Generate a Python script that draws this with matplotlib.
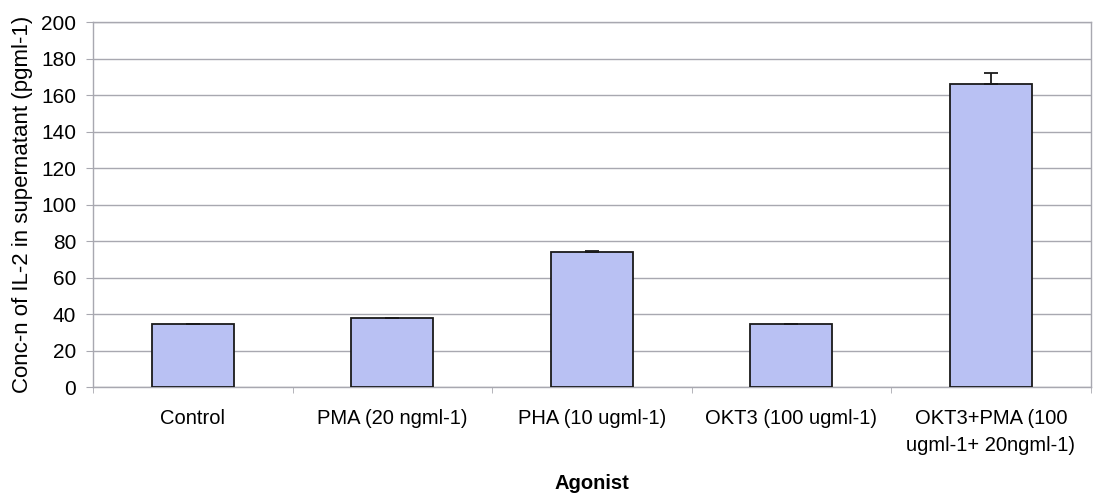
import matplotlib
matplotlib.use("Agg")
import matplotlib.pyplot as plt
import numpy as np

plt.rcParams['font.family'] = ['Liberation Sans', 'DejaVu Sans']

categories = ["Control", "PMA (20 ngml-1)", "PHA (10 ugml-1)", "OKT3 (100 ugml-1)",
              "OKT3+PMA (100\nugml-1+ 20ngml-1)"]
il2_conc = [34.3, 37.8, 73.8, 34.3, 165.9]
il2_err = [0.0, 0.0, 0.8, 0.0, 6.0]
y_ticks = list(range(0, 201, 20))

grid_col = "#a8a8b0"
bar_col = "#b9c1f3"

fig = plt.figure(figsize=(10.94, 4.97), dpi=100)
ax = fig.add_axes([0.085, 0.2213, 0.912, 0.7344])

x = np.arange(len(categories))
ax.bar(x, il2_conc, width=0.41, color=bar_col, edgecolor="#1a1a1a", linewidth=1.3, zorder=3)
ax.errorbar(x, il2_conc, yerr=[np.zeros(len(il2_err)), il2_err], fmt="none",
            ecolor="#1a1a1a", elinewidth=1.3, capsize=5, capthick=1.3, zorder=4)

ax.set_xlim(-0.5, len(categories) - 0.5)
ax.set_ylim(0, 200)
ax.set_yticks(y_ticks)
ax.set_yticklabels([str(v) for v in y_ticks], fontsize=15)
ax.yaxis.grid(True, color=grid_col, linewidth=1.0, zorder=0)
ax.set_axisbelow(True)

# category labels sit between the boundary ticks
ax.set_xticks(x)
ax.set_xticklabels(categories, fontsize=14.5, linespacing=1.5)
ax.tick_params(axis="x", length=0, pad=16)
ax.set_xticks(np.arange(len(categories) + 1) - 0.5, minor=True)
ax.tick_params(axis="x", which="minor", length=4, color=grid_col, direction="out")
ax.tick_params(axis="y", length=5, color=grid_col, pad=7)

for side in ("left", "bottom", "right", "top"):
    ax.spines[side].set_color(grid_col)
    ax.spines[side].set_linewidth(1.0)

ax.set_ylabel("Conc-n of IL-2 in supernatant (pgml-1)", fontsize=16, labelpad=6)
ax.set_xlabel("Agonist", fontsize=14.5, fontweight="bold", labelpad=14)

fig.savefig("out.png", dpi=100)
